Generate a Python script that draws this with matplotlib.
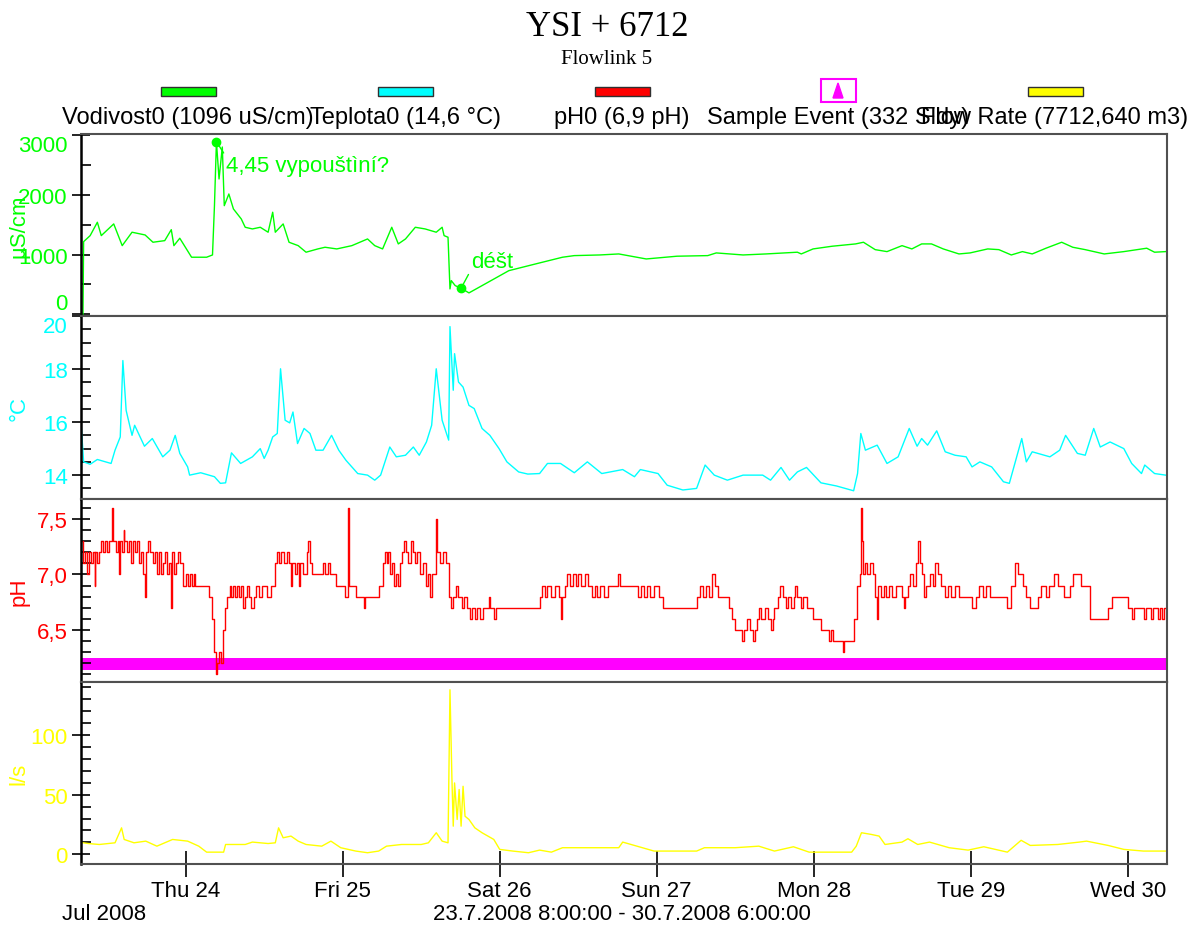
import numpy as np
import pandas as pd
import matplotlib
matplotlib.use("Agg")
import matplotlib.pyplot as plt
import matplotlib.dates as mdates
from matplotlib.patches import Rectangle, Polygon
from matplotlib.ticker import MultipleLocator, FixedLocator

plt.rcParams['font.family'] = ['Liberation Sans', 'DejaVu Sans']

# time range of the record
start = pd.Timestamp('2008-07-23 08:00')
end = pd.Timestamp('2008-07-30 06:00')

# conductivity, hours after start / uS/cm
cond_h = [0.0, 0.3, 0.4, 1.4, 2.5, 3.1, 5.0, 6.3, 7.8, 9.8, 11.0, 12.8, 13.8, 14.2, 15.1, 16.9,
          19.2, 20.1, 20.4, 20.7, 21.1, 21.6, 21.9, 22.6, 23.3, 24.5, 25.1, 26.2, 27.4, 28.6, 29.3,
          29.7, 30.9, 31.8, 33.2, 34.4, 36.2, 37.3, 39.1, 41.4, 43.8, 44.9, 46.1, 47.5, 48.5, 49.6,
          51.1, 52.6, 54.3, 55.2, 55.5, 56.1, 56.4, 56.6, 57.2, 58.1, 59.3, 61.3, 65.4, 69.5, 73.6,
          75.4, 79.3, 82.2, 86.4, 91.1, 95.8, 97.1, 101.2, 104.7, 109.5, 110.1, 111.9, 114.8, 118.4,
          119.6, 121.4, 123.2, 125.5, 127.0, 128.5, 130.0, 131.8, 134.2, 135.9, 138.6, 140.3, 142.2,
          143.9, 145.4, 147.5, 149.9, 151.6, 153.5, 156.4, 159.4, 162.9, 164.1, 165.8, 166.0]
cond_v = [0, 0, 1216, 1317, 1541, 1317, 1513, 1149, 1374, 1328, 1206, 1233, 1417, 1149, 1273, 955,
          955, 993, 1819, 2891, 2266, 2802, 1819, 2015, 1764, 1596, 1457, 1429, 1457, 1374, 1709,
          1374, 1513, 1206, 1149, 1039, 1094, 1122, 1094, 1149, 1261, 1149, 1094, 1457, 1178, 1261,
          1457, 1429, 1374, 1457, 1317, 1290, 424, 563, 479, 436, 357, 479, 730, 843, 955,
          982, 993, 1010, 926, 972, 982, 1027, 993, 1010, 1039, 1010, 1094, 1139, 1178,
          1206, 1082, 1049, 1149, 1094, 1178, 1178, 1094, 1010, 1027, 1094, 1082, 993,
          1049, 1010, 1106, 1206, 1122, 1082, 1010, 1049, 1106, 1039, 1049, 1060]

# temperature, degC
temp_h = [0.0, 0.4, 1.4, 2.5, 4.6, 5.2, 6.0, 6.4, 6.9, 7.8, 8.2, 9.7, 10.9, 12.5, 13.6, 14.4, 15.1,
          16.3, 16.6, 18.3, 20.4, 21.3, 22.1, 23.0, 24.4, 26.2, 27.4, 28.0, 28.6, 29.3, 30.0, 30.5,
          31.2, 31.9, 32.4, 33.1, 34.1, 35.0, 35.9, 37.0, 38.3, 39.4, 40.5, 42.3, 43.8, 44.9, 45.8,
          47.2, 48.2, 49.6, 50.8, 51.7, 52.8, 53.6, 54.3, 55.2, 56.2, 56.4, 56.9, 57.1, 57.7, 58.4,
          59.3, 60.1, 61.3, 62.5, 63.9, 65.1, 66.9, 68.3, 70.1, 71.3, 73.3, 75.4, 77.4, 79.6, 82.8,
          84.6, 85.5, 88.2, 89.6, 92.0, 94.1, 95.4, 96.8, 98.8, 101.2, 104.2, 105.4, 107.0, 108.3,
          109.5, 110.9, 113.1, 115.5, 118.1, 118.7, 119.2, 119.9, 121.7, 123.2, 124.9, 126.6, 127.8,
          128.5, 129.4, 130.8, 132.1, 133.6, 135.3, 136.2, 137.4, 139.2, 141.0, 141.9, 143.1, 143.8,
          144.5, 145.4, 148.1, 149.6, 150.5, 152.3, 153.5, 154.8, 155.8, 157.3, 159.4, 160.6, 162.1,
          162.6, 164.1, 165.8]
temp_v = [16.0, 14.5, 14.41, 14.59, 14.44, 14.94, 15.44, 18.32, 16.44, 15.5, 15.88, 15.09, 15.38,
          14.69, 14.94, 15.5, 14.82, 14.31, 14.0, 14.09, 13.94, 13.69, 13.71, 14.84, 14.44, 14.69,
          15.0, 14.63, 14.94, 15.44, 15.57, 18.01, 16.07, 15.97, 16.38, 15.19, 15.76, 15.57, 14.94,
          14.94, 15.5, 14.94, 14.56, 14.06, 14.0, 13.81, 14.0, 15.06, 14.69, 14.75, 15.06, 14.75,
          15.25, 15.88, 18.01, 16.07, 15.32, 19.6, 17.2, 18.58, 17.51, 17.32, 16.63, 16.51, 15.76,
          15.5, 15.0, 14.5, 14.12, 14.04, 14.06, 14.44, 14.44, 14.09, 14.5, 14.06, 14.21, 13.94,
          14.21, 14.06, 13.62, 13.44, 13.5, 14.38, 14.0, 13.81, 14.0, 14.0, 13.81, 14.29, 13.81,
          14.12, 14.29, 13.71, 13.59, 13.41, 14.06, 15.57, 14.94, 15.13, 14.44, 14.69, 15.76, 15.09,
          15.38, 15.13, 15.67, 14.88, 14.75, 14.69, 14.31, 14.5, 14.31, 13.75, 13.69, 14.75, 15.38,
          14.5, 14.88, 14.69, 14.94, 15.5, 14.82, 14.75, 15.76, 15.06, 15.25, 15.0, 14.44, 14.06,
          14.38, 14.06, 14.0]

# pH (stepped readings)
ph_h = [0.0, 0.3, 0.6, 0.9, 1.2, 1.5, 1.8, 2.1, 2.2, 2.5, 2.8, 3.1, 3.4, 3.7, 4.0, 4.3, 4.8, 4.9,
        5.3, 5.6, 5.8, 5.9, 6.2, 6.5, 6.6, 7.0, 7.3, 7.6, 7.9, 8.2, 8.5, 8.8, 9.1, 9.5, 9.8, 9.9,
        10.3, 10.6, 11.0, 11.3, 11.6, 11.9, 12.2, 12.5, 12.8, 13.1, 13.5, 13.8, 13.9, 14.2, 14.5,
        14.8, 15.2, 15.6, 16.0, 16.3, 16.6, 16.9, 17.2, 17.5, 19.5, 20.0, 20.3, 20.6, 20.8, 21.1,
        21.4, 21.7, 22.0, 22.3, 22.7, 23.0, 23.3, 23.6, 23.9, 24.2, 24.5, 24.8, 25.1, 25.4, 25.7,
        26.0, 26.4, 26.8, 27.2, 27.6, 28.5, 29.0, 29.7, 30.0, 30.3, 30.6, 31.0, 31.5, 31.8, 32.1,
        32.3, 32.7, 33.0, 33.3, 33.5, 34.0, 34.5, 34.7, 35.0, 35.3, 37.0, 37.3, 37.8, 38.1, 39.0,
        40.3, 40.8, 40.9, 42.0, 43.2, 43.4, 45.5, 46.1, 46.4, 46.7, 47.0, 47.3, 47.6, 47.9, 48.2,
        48.5, 48.8, 49.1, 49.4, 49.7, 50.0, 50.4, 50.7, 51.0, 51.3, 51.8, 52.2, 52.7, 53.0, 53.4,
        53.7, 54.2, 54.4, 54.8, 55.3, 55.8, 56.3, 56.6, 56.9, 57.3, 57.7, 58.2, 58.6, 59.0, 59.4,
        59.8, 60.2, 60.6, 61.0, 61.5, 62.3, 62.5, 63.2, 63.5, 70.1, 70.5, 70.9, 71.3, 71.8, 72.4,
        73.0, 73.3, 73.5, 74.0, 74.3, 74.7, 75.2, 75.6, 76.0, 76.5, 77.0, 77.5, 78.1, 78.5, 78.9,
        79.3, 80.0, 80.6, 82.1, 82.4, 85.2, 85.6, 86.0, 86.5, 87.0, 87.6, 88.3, 89.0, 94.1, 94.6,
        95.0, 95.5, 96.0, 96.5, 96.9, 97.3, 99.1, 99.5, 100.0, 101.0, 101.4, 101.8, 102.3, 102.7,
        103.0, 103.3, 103.6, 104.0, 104.5, 105.0, 105.4, 105.7, 106.0, 106.5, 106.9, 107.3, 107.7,
        108.1, 108.5, 109.0, 109.2, 109.5, 110.0, 110.4, 111.0, 111.9, 113.1, 114.3, 114.6, 114.9,
        116.5, 116.6, 118.1, 118.6, 119.0, 119.3, 119.4, 119.6, 119.9, 120.2, 120.6, 121.0, 121.4,
        121.7, 121.8, 122.3, 122.7, 123.1, 123.5, 124.0, 124.6, 125.5, 125.8, 125.9, 126.4, 126.7,
        127.2, 127.6, 127.9, 128.2, 128.5, 128.8, 129.1, 129.7, 130.2, 130.5, 131.0, 131.5, 132.1,
        132.6, 133.0, 133.6, 134.2, 136.2, 136.8, 137.3, 137.8, 138.3, 139.0, 141.6, 142.2, 142.8,
        143.3, 144.0, 144.5, 145.1, 146.3, 146.8, 147.5, 147.9, 148.7, 149.3, 150.3, 151.1, 151.6,
        152.8, 154.3, 157.0, 157.6, 160.0, 160.6, 161.0, 162.5, 162.8, 163.5, 163.8, 164.6, 164.9,
        165.3, 165.6, 166.0]
ph_v = [7.3, 7.1, 7.2, 7.0, 7.2, 7.1, 7.2, 6.9, 7.2, 7.1, 7.2, 7.3, 7.2, 7.3, 7.2, 7.3, 7.6, 7.3,
        7.2, 7.3, 7.0, 7.3, 7.2, 7.4, 7.3, 7.2, 7.3, 7.1, 7.3, 7.2, 7.3, 7.1, 7.2, 7.0, 6.8, 7.2,
        7.3, 7.2, 7.1, 7.2, 7.0, 7.2, 7.0, 7.1, 7.2, 7.0, 7.1, 6.7, 7.2, 7.0, 7.1,
        7.2, 7.1, 6.9, 7.0, 6.9, 7.0, 6.9, 7.0, 6.9, 6.8, 6.6, 6.3, 6.1, 6.2, 6.3,
        6.2, 6.5, 6.7, 6.8, 6.9, 6.8, 6.9, 6.8, 6.9, 6.8, 6.9, 6.7, 6.8, 6.9, 6.8,
        6.7, 6.8, 6.9, 6.8, 6.9, 6.8, 6.9, 7.1, 7.2, 7.1, 7.2, 7.1, 7.2, 7.1, 6.9,
        7.1, 7.0, 7.1, 6.9, 7.1, 7.0, 7.2, 7.3, 7.1, 7.0, 7.1, 7.0, 7.1, 7.0, 6.9,
        6.8, 7.6, 6.9, 6.8, 6.7, 6.8, 6.9, 7.1, 7.2, 7.1, 7.2, 7.0, 7.1, 6.9, 7.0,
        6.9, 7.1, 7.2, 7.3, 7.2, 7.1, 7.3, 7.2, 7.1, 7.2, 7.0, 7.1, 6.9, 7.0, 6.8,
        7.0, 7.5, 7.2, 7.1, 7.2, 7.1, 6.8, 6.7, 6.8, 6.9, 6.8, 6.7, 6.8, 6.7, 6.6,
        6.7, 6.6, 6.7, 6.6, 6.7, 6.8, 6.7, 6.6, 6.7, 6.8, 6.9, 6.8, 6.9, 6.8, 6.9,
        6.8, 6.6, 6.8, 6.9, 7.0, 6.9, 7.0, 6.9, 7.0, 6.9, 7.0, 6.9, 6.8, 6.9, 6.8,
        6.9, 6.8, 6.9, 7.0, 6.9, 6.8, 6.9, 6.8, 6.9, 6.8, 6.9, 6.8, 6.7, 6.8, 6.9,
        6.8, 6.9, 6.8, 7.0, 6.9, 6.8, 6.7, 6.6, 6.5, 6.4, 6.5, 6.6, 6.5, 6.4,
        6.5, 6.6, 6.7, 6.6, 6.7, 6.6, 6.5, 6.6, 6.7, 6.8, 6.9, 6.8, 6.7,
        6.8, 6.7, 6.8, 6.9, 6.8, 6.7, 6.8, 6.7, 6.6, 6.5, 6.4, 6.5, 6.4,
        6.3, 6.4, 6.6, 6.9, 7.0, 7.6, 7.3, 7.0, 7.1, 7.0, 7.1, 7.0, 6.8,
        6.6, 6.9, 6.8, 6.9, 6.8, 6.9, 6.8, 6.9, 6.8, 6.7, 6.8, 6.9, 7.0,
        6.9, 7.1, 7.3, 7.1, 7.0, 6.8, 6.9, 7.0, 6.9, 7.1, 7.0, 6.9, 6.8,
        6.9, 6.8, 6.9, 6.8, 6.7, 6.8, 6.9, 6.8, 6.9, 6.8, 6.7, 6.9, 7.1,
        7.0, 6.9, 6.8, 6.7, 6.8, 6.9, 6.8, 6.9, 7.0, 6.9, 6.8, 6.9, 7.0,
        6.9, 6.6, 6.7, 6.8, 6.7, 6.6, 6.7, 6.6, 6.7, 6.6, 6.7, 6.6, 6.7,
        6.6, 6.7, 6.7]

# flow rate, l/s
flow_h = [0.0, 1.1, 2.8, 5.2, 6.2, 6.6, 8.1, 9.9, 11.6, 14.0, 16.3, 18.0, 19.2, 21.8, 22.1, 25.1,
          26.2, 28.6, 29.7, 30.2, 30.9, 32.1, 33.2, 34.4, 36.8, 38.2, 39.7, 42.0, 43.8, 45.5, 46.7,
          49.0, 52.0, 53.1, 54.3, 55.2, 56.1, 56.4, 56.7, 56.9, 57.1, 57.5, 57.8, 58.1, 58.4, 58.7,
          59.3, 60.2, 61.3, 63.1, 64.0, 66.0, 68.4, 70.1, 71.9, 73.6, 76.5, 79.4, 82.2, 82.8, 87.6,
          94.1, 95.3, 100.0, 103.6, 106.0, 108.9, 111.3, 117.8, 118.5, 119.3, 120.8, 122.0, 122.9,
          125.5, 126.4, 127.9, 129.7, 132.7, 135.6, 138.0, 141.6, 143.7, 145.1, 149.3, 152.6, 153.7,
          157.0, 159.4, 162.4, 165.8]
flow_v = [10.0, 9.1, 8.3, 9.7, 22.2, 12.5, 9.7, 11.1, 6.9, 12.5, 11.1, 6.9, 1.9, 1.9, 8.3, 8.3,
          10.3, 9.1, 9.7, 22.2, 13.9, 15.3, 11.1, 8.3, 6.9, 11.1, 5.6, 2.8, 1.4, 2.8, 6.9,
          8.3, 8.3, 9.7, 18.1, 11.1, 9.7, 137.5, 62.5, 23.6, 59.7, 29.2, 54.2, 23.6, 56.9, 31.9,
          29.2, 22.2, 18.1, 12.5, 4.2, 2.8, 1.4, 3.6, 1.9, 5.6, 5.6, 5.6, 5.6, 10.3, 2.8,
          2.8, 5.6, 5.6, 6.9, 2.8, 6.4, 1.9, 1.9, 6.9, 18.1, 16.7, 15.3, 8.3,
          10.3, 13.1, 8.3, 10.3, 5.6, 3.6, 6.4, 1.9, 11.8, 7.5, 8.3, 10.3, 11.1,
          7.5, 4.2, 2.8, 2.8]

# sample events shown as a band on the pH panel (332 samples)
sample_band = (6.14, 6.25)

# notes on the conductivity panel
note_h = [20.7, 58.1]
note_v = [2891, 436]
note_text = ['4,45 vypouštìní?', 'déšt']
note_off = [(10, -24), (10, 27)]
note_rel = [(0.0, 0.9), (0.0, 0.1)]

legend_labels = ['Vodivost0 (1096 uS/cm)', 'Teplota0 (14,6 °C)', 'pH0 (6,9 pH)',
                 'Sample Event (332 Sldy)', 'Flow Rate (7712,640 m3)']

GREEN, CYAN, RED, MAG, YEL = '#00ff00', '#00ffff', '#ff0000', '#ff00ff', '#ffff00'


def to_time(h):
    return start + pd.to_timedelta(np.array(h), unit='h')


W, H = 1189, 928
fig = plt.figure(figsize=(W / 100, H / 100), dpi=100)

L, R = 81, 1167
bounds = [(135, 317), (317, 500), (500, 683), (683, 865)]
axes = []
for top, bot in bounds:
    ax = fig.add_axes([L / W, 1 - bot / H, (R - L) / W, (bot - top) / H])
    axes.append(ax)
ax1, ax2, ax3, ax4 = axes

ax1.plot(to_time(cond_h), cond_v, color=GREEN, lw=1.0)
ax2.plot(to_time(temp_h), temp_v, color=CYAN, lw=1.0)
ax3.plot(to_time(ph_h), ph_v, color=RED, lw=1.0, drawstyle='steps-post')
ax3.fill_between([start, end], sample_band[0], sample_band[1], color=MAG, lw=0)
ax4.plot(to_time(flow_h), flow_v, color=YEL, lw=1.0)

for h, v, t, off, rp in zip(note_h, note_v, note_text, note_off, note_rel):
    tm = to_time([h])[0]
    ax1.plot([tm], [v], 'o', color=GREEN, ms=6)
    ax1.annotate(t, xy=(tm, v), xytext=off, textcoords='offset pixels', ha='left', va='center',
                 color=GREEN, fontsize=16,
                 arrowprops=dict(arrowstyle='-', color=GREEN, lw=1, shrinkA=0, shrinkB=0,
                                 relpos=rp))

settings = [
    (ax1, (-30, 3020), [0, 1000, 2000, 3000], 500, GREEN, 'µS/cm'),
    (ax2, (13.1, 20.0), [14, 16, 18, 20], 0.5, CYAN, '°C'),
    (ax3, (6.03, 7.68), [6.5, 7.0, 7.5], 0.1, RED, 'pH'),
    (ax4, (-8, 144), [0, 50, 100], 10, YEL, 'l/s'),
]
for ax, ylim, majors, minor, col, lab in settings:
    ax.set_xlim(start, end)
    ax.set_ylim(*ylim)
    ax.yaxis.set_major_locator(FixedLocator(majors))
    ax.yaxis.set_minor_locator(MultipleLocator(minor))
    if ax is ax3:
        ax.yaxis.set_major_formatter(lambda v, p: f'{v:.1f}'.replace('.', ','))
    else:
        ax.yaxis.set_major_formatter(lambda v, p: f'{v:.0f}')
    ax.tick_params(axis='y', which='major', direction='inout', length=13, width=1.2,
                   labelsize=16, labelcolor=col, pad=3)
    ax.tick_params(axis='y', which='minor', direction='in', length=7, width=1.2)
    ax.set_ylabel(lab, color=col, fontsize=16)
    ax.yaxis.set_label_coords(-0.047, 0.5)
    for s in ['top', 'right', 'bottom']:
        ax.spines[s].set_color('#505050')
        ax.spines[s].set_linewidth(1.5)
    ax.spines['left'].set_color('black')
    ax.spines['left'].set_linewidth(1.8)
    if ax is not ax4:
        ax.tick_params(axis='x', which='both', bottom=False, labelbottom=False)

# keep edge labels inside their panel
fig.canvas.draw()
for ax, val, va in [(ax1, 3000, 'top'), (ax1, 0, 'bottom'), (ax2, 20, 'top')]:
    for tk in ax.yaxis.get_major_ticks():
        if abs(tk.get_loc() - val) < 1e-9:
            tk.label1.set_va(va)

ax4.xaxis.set_major_locator(mdates.DayLocator())
ax4.xaxis.set_major_formatter(mdates.DateFormatter('%a %d'))
ax4.tick_params(axis='x', which='major', direction='inout', length=19, width=1.2,
                labelsize=16, pad=2)
ax4.xaxis.set_minor_locator(FixedLocator([]))

# title
fig.text(607 / W, 1 - 28 / H, 'YSI + 6712', ha='center', va='center', fontsize=25,
         family='Liberation Serif')
fig.text(607 / W, 1 - 60 / H, 'Flowlink 5', ha='center', va='center', fontsize=15,
         family='Liberation Serif')

# legend row
centers = [188, 405, 622, 838, 1055]
colors = [GREEN, CYAN, RED, MAG, YEL]
for cx, col, lab in zip(centers, colors, legend_labels):
    if col == MAG:
        fig.patches.append(Rectangle(((cx - 17) / W, 1 - 103 / H), 35 / W, 23 / H,
                                     transform=fig.transFigure, fc='white', ec=MAG, lw=1.5))
        fig.patches.append(Polygon([((cx - 5) / W, 1 - 99 / H), ((cx + 5) / W, 1 - 99 / H),
                                    (cx / W, 1 - 84 / H)], closed=True,
                                   transform=fig.transFigure, fc=MAG, ec=MAG))
    else:
        fig.patches.append(Rectangle(((cx - 27) / W, 1 - 97 / H), 55 / W, 9 / H,
                                     transform=fig.transFigure, fc=col, ec='#303030', lw=1))
    fig.text(cx / W, 1 - 118 / H, lab, ha='center', va='center', fontsize=17)

fig.text(62 / W, 1 - 915 / H, 'Jul 2008', ha='left', va='center', fontsize=16)
fig.text(622 / W, 1 - 915 / H, '23.7.2008 8:00:00 - 30.7.2008 6:00:00', ha='center',
         va='center', fontsize=16)

fig.savefig('out.png', dpi=100)
